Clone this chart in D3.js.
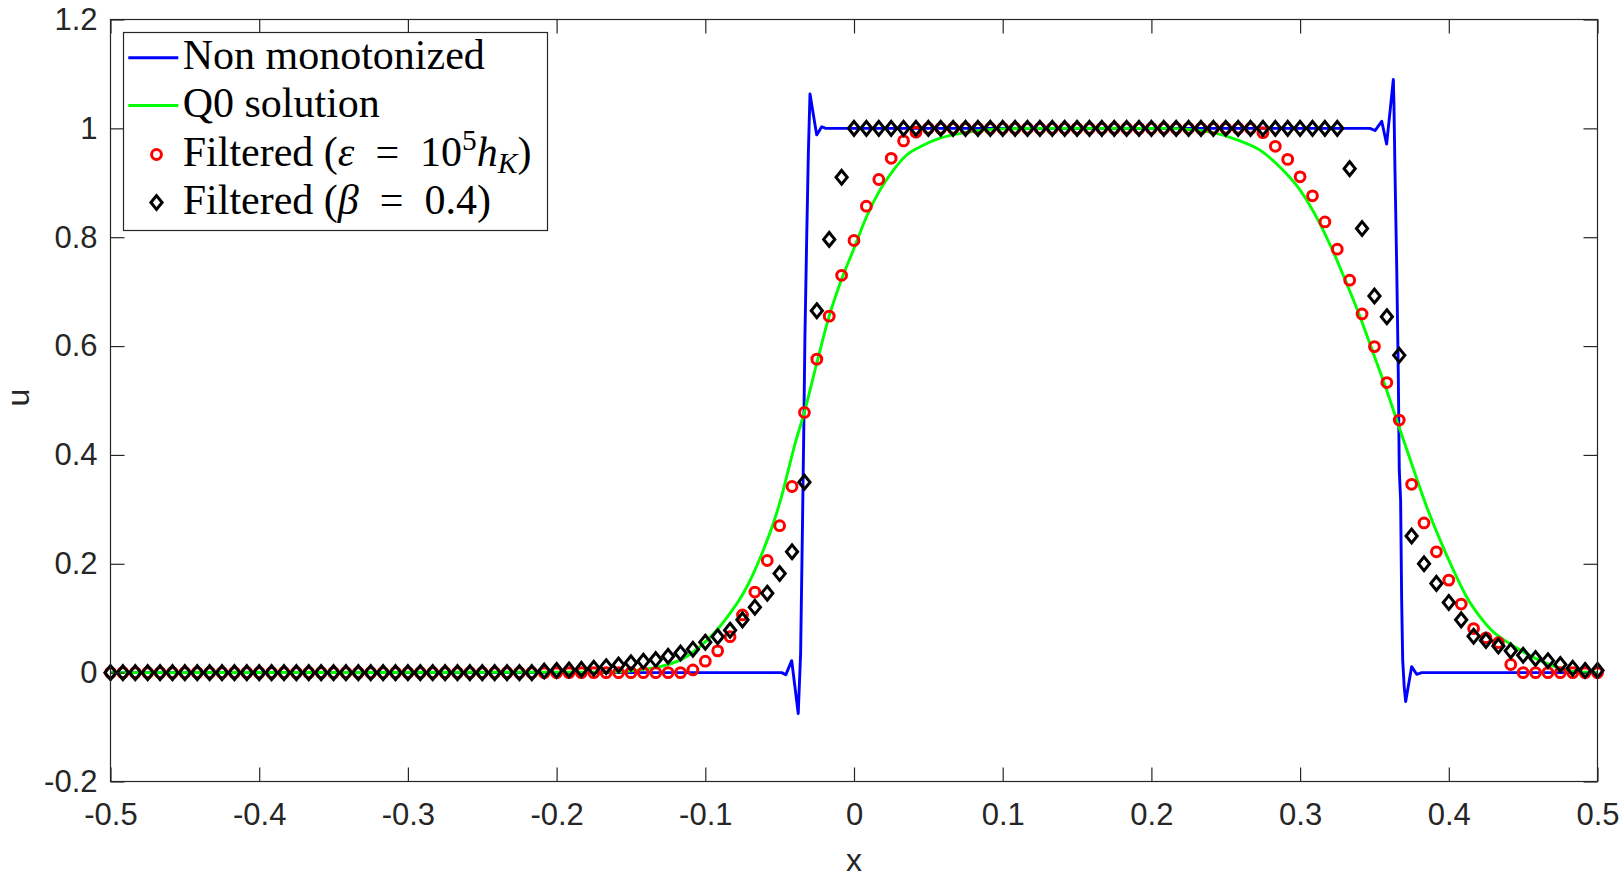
<!DOCTYPE html>
<html>
<head>
<meta charset="utf-8">
<script src="https://cdn.jsdelivr.net/npm/d3@7/dist/d3.min.js"></script>
<style>
  html, body { margin: 0; padding: 0; background: #fff; }
  svg { display: block; }
</style>
</head>
<body>
<svg id="chart" width="1621" height="877"></svg>
<script>
// ---------------- DATA ----------------
const xTicks = [-0.5, -0.4, -0.3, -0.2, -0.1, 0, 0.1, 0.2, 0.3, 0.4, 0.5];
const xTickLabels = ["-0.5", "-0.4", "-0.3", "-0.2", "-0.1", "0", "0.1", "0.2", "0.3", "0.4", "0.5"];
const yTicks = [-0.2, 0, 0.2, 0.4, 0.6, 0.8, 1, 1.2];
const yTickLabels = ["-0.2", "0", "0.2", "0.4", "0.6", "0.8", "1", "1.2"];

// marker abscissae: 121 nodes from -0.5 to 0.5
const markerX = d3.range(121).map(i => -0.5 + i / 120);

// Filtered (epsilon = 10^5 h_K) -- red circles
const filteredEps = [
  0,0,0,0,0,0,0,0,0,0,            // 0-9
  0,0,0,0,0,0,0,0,0,0,            // 10-19
  0,0,0,0,0,0,0,0,0,0,            // 20-29
  0,0,0,0,0,0,0,0,0,0,            // 30-39
  0,0,0,0,0,0,0,0.005,0.021,0.040, // 40-49
  0.066,0.106,0.148,0.206,0.270,0.342,0.478,0.576,0.655,0.730, // 50-59
  0.794,0.857,0.906,0.945,0.977,0.993,1,1,1,1, // 60-69
  1,1,1,1,1,1,1,1,1,1,            // 70-79
  1,1,1,1,1,1,1,1,1,1,            // 80-89
  1,1,1,0.992,0.967,0.943,0.911,0.876,0.828,0.778, // 90-99
  0.721,0.659,0.599,0.533,0.464,0.346,0.275,0.222,0.170,0.126, // 100-109
  0.081,0.064,0.055,0.015,0,0,0,0,0,0, // 110-119
  0                               // 120
];

// Filtered (beta = 0.4) -- black diamonds
const filteredBeta = [
  0,0,0,0,0,0,0,0,0,0,            // 0-9
  0,0,0,0,0,0,0,0,0,0,            // 10-19
  0,0,0,0,0,0,0,0,0,0,            // 20-29
  0,0,0,0,0,0.003,0.004,0.005,0.006,0.008, // 30-39
  0.011,0.014,0.018,0.021,0.024,0.030,0.036,0.043,0.056,0.066, // 40-49
  0.078,0.097,0.120,0.146,0.182,0.222,0.350,0.665,0.796,0.910, // 50-59
  1,1,1,1,1,1,1,1,1,1,            // 60-69
  1,1,1,1,1,1,1,1,1,1,            // 70-79
  1,1,1,1,1,1,1,1,1,1,            // 80-89
  1,1,1,1,1,1,1,1,1,1,            // 90-99
  0.926,0.816,0.692,0.654,0.583,0.251,0.200,0.164,0.129,0.097, // 100-109
  0.067,0.059,0.049,0.040,0.032,0.026,0.022,0.015,0.008,0.004, // 110-119
  0.004                           // 120
];

// Non monotonized solution -- blue line (x, u)
const nonMonoX = [-0.5, -0.0486, -0.0459, -0.0419, -0.0375, -0.0359, -0.0346, -0.0338, -0.0330, -0.0318, -0.0307, -0.0296, -0.0251, -0.0217, -0.0190,
  0.3470, 0.3504, 0.3549, 0.3582, 0.3627, 0.3631, 0.3638, 0.3650, 0.3660, 0.3667, 0.3676, 0.3683, 0.3690, 0.3700, 0.3710, 0.3750, 0.3784, 0.3818, 0.5];
const nonMonoU = [0, 0, -0.004, 0.022, -0.075, 0.035, 0.28, 0.44, 0.617, 0.80, 0.954, 1.063, 0.988, 1.003, 1.0,
  1.0, 0.996, 1.013, 0.971, 1.09, 1.046, 0.923, 0.74, 0.556, 0.372, 0.317, 0.133, 0.023, -0.026, -0.053, 0.011, -0.003, 0, 0];

// Q0 solution -- green line (x, u)
const q0X = [-0.5, -0.16, -0.1439, -0.1305, -0.1170, -0.1036, -0.0923, -0.0834, -0.0744, -0.0677, -0.0610, -0.0543, -0.0476, -0.0442, -0.0397, -0.0334, -0.0251, -0.0168, -0.0094, -0.0005,
  0.0085, 0.0175, 0.0264, 0.0354, 0.0466, 0.0578, 0.07, 0.085, 0.10, 0.12, 0.21, 0.225, 0.24, 0.2596, 0.2730, 0.2864, 0.2999, 0.3133, 0.3223, 0.3313,
  0.3403, 0.3492, 0.3582, 0.3672, 0.3761, 0.3851, 0.3941, 0.4030, 0.4120, 0.4209, 0.4299, 0.4389, 0.4478, 0.4568, 0.4658, 0.4748, 0.4837, 0.5];
const q0U = [0, 0.001, 0.005, 0.011, 0.023, 0.048, 0.078, 0.109, 0.146, 0.182, 0.225, 0.274, 0.335, 0.372, 0.420, 0.478, 0.568, 0.654, 0.715, 0.776,
  0.838, 0.887, 0.923, 0.951, 0.969, 0.982, 0.990, 0.996, 0.999, 1.0, 1.0, 0.998, 0.993, 0.977, 0.960, 0.929, 0.887, 0.825, 0.773, 0.715,
  0.654, 0.587, 0.519, 0.446, 0.375, 0.305, 0.244, 0.189, 0.139, 0.103, 0.075, 0.057, 0.042, 0.028, 0.017, 0.008, 0.002, 0];

// ---------------- CHART ----------------
const svg = d3.select("#chart");
const W = 1621, H = 877;
const plot = { left: 110.5, right: 1597.5, top: 19.5, bottom: 781.5 };
const axisColor = "#262626";
const tickFont = "'Liberation Sans', Arial, Helvetica, sans-serif";
const legendFont = "'Liberation Serif', 'Times New Roman', serif";

const x = d3.scaleLinear().domain([-0.5, 0.5]).range([plot.left, plot.right]);
const y = d3.scaleLinear().domain([-0.2, 1.2]).range([plot.bottom, plot.top]);

svg.append("rect").attr("width", W).attr("height", H).attr("fill", "#fff");

const clipId = "plotclip";
svg.append("clipPath").attr("id", clipId).append("rect")
  .attr("x", plot.left - 9).attr("y", plot.top).attr("width", plot.right - plot.left + 18).attr("height", plot.bottom - plot.top);

const g = svg.append("g").attr("clip-path", `url(#${clipId})`);

const line = d3.line().x(d => x(d[0])).y(d => y(d[1]));

// blue line
g.append("path")
  .datum(nonMonoX.map((v, i) => [v, nonMonoU[i]]))
  .attr("d", line).attr("fill", "none").attr("stroke", "#0000ff")
  .attr("stroke-width", 2.9).attr("stroke-linejoin", "round");

// green line
g.append("path")
  .datum(q0X.map((v, i) => [v, q0U[i]]))
  .attr("d", d3.line().curve(d3.curveMonotoneX).x(d => x(d[0])).y(d => y(d[1])))
  .attr("fill", "none").attr("stroke", "#00ff00")
  .attr("stroke-width", 2.9).attr("stroke-linejoin", "round");

// red circles
const circR = 4.9, circW = 3;
g.selectAll("circle.eps").data(markerX.map((v, i) => [v, filteredEps[i]]))
  .enter().append("circle").attr("class", "eps")
  .attr("cx", d => x(d[0])).attr("cy", d => y(d[1])).attr("r", circR)
  .attr("fill", "none").attr("stroke", "#ff0000").attr("stroke-width", circW);

// black diamonds
const diamond = (w, h) => `M0,${-h}L${w},0L0,${h}L${-w},0Z`;
const dW = 5.6, dH = 6.9, dSW = 3;
g.selectAll("path.beta").data(markerX.map((v, i) => [v, filteredBeta[i]]))
  .enter().append("path").attr("class", "beta")
  .attr("transform", d => `translate(${x(d[0])},${y(d[1])})`)
  .attr("d", diamond(dW, dH))
  .attr("fill", "none").attr("stroke", "#000").attr("stroke-width", dSW)
  .attr("stroke-linejoin", "miter");

// axes box
const axes = svg.append("g");
axes.append("rect")
  .attr("x", plot.left).attr("y", plot.top)
  .attr("width", plot.right - plot.left).attr("height", plot.bottom - plot.top)
  .attr("fill", "none").attr("stroke", axisColor).attr("stroke-width", 1.2);

const tickLen = 14;
// bottom axis (ticks inward)
const xAxis = d3.axisBottom(x).tickValues(xTicks).tickFormat((d, i) => xTickLabels[i])
  .tickSizeInner(-tickLen).tickSizeOuter(0).tickPadding(21);
const xg = axes.append("g").attr("transform", `translate(0,${plot.bottom})`).call(xAxis);
xg.select(".domain").remove();
xg.selectAll("line").attr("stroke", axisColor).attr("stroke-width", 1.2);
xg.selectAll("text").attr("fill", axisColor).style("font-family", tickFont).style("font-size", "31px");

// top ticks
const xTop = d3.axisTop(x).tickValues(xTicks).tickFormat("").tickSizeInner(-tickLen).tickSizeOuter(0);
const xtg = axes.append("g").attr("transform", `translate(0,${plot.top})`).call(xTop);
xtg.select(".domain").remove();
xtg.selectAll("line").attr("stroke", axisColor).attr("stroke-width", 1.2);

// left axis
const yAxis = d3.axisLeft(y).tickValues(yTicks).tickFormat((d, i) => yTickLabels[i])
  .tickSizeInner(-tickLen).tickSizeOuter(0).tickPadding(13);
const yg = axes.append("g").attr("transform", `translate(${plot.left},0)`).call(yAxis);
yg.select(".domain").remove();
yg.selectAll("line").attr("stroke", axisColor).attr("stroke-width", 1.2);
yg.selectAll("text").attr("fill", axisColor).style("font-family", tickFont).style("font-size", "31px");

// right ticks
const yRight = d3.axisRight(y).tickValues(yTicks).tickFormat("").tickSizeInner(-tickLen).tickSizeOuter(0);
const yrg = axes.append("g").attr("transform", `translate(${plot.right},0)`).call(yRight);
yrg.select(".domain").remove();
yrg.selectAll("line").attr("stroke", axisColor).attr("stroke-width", 1.2);

// axis labels
svg.append("text").attr("x", (plot.left + plot.right) / 2).attr("y", 871)
  .attr("text-anchor", "middle").attr("fill", axisColor)
  .style("font-family", tickFont).style("font-size", "32px").text("x");
svg.append("text").attr("transform", `translate(29,${(plot.top + plot.bottom) / 2 - 3}) rotate(-90)`)
  .attr("text-anchor", "middle").attr("fill", axisColor)
  .style("font-family", tickFont).style("font-size", "32px").text("u");

// ---------------- LEGEND ----------------
const lg = svg.append("g");
lg.append("rect").attr("x", 123.5).attr("y", 32.5).attr("width", 424).attr("height", 198)
  .attr("fill", "#fff").attr("stroke", axisColor).attr("stroke-width", 1.2);

const rowsY = [57.7, 105.5, 154.5, 202.5];
const textX = 182.7;
const fs = 42;

// row 1: blue line
lg.append("line").attr("x1", 128.3).attr("x2", 178.3).attr("y1", rowsY[0]).attr("y2", rowsY[0])
  .attr("stroke", "#0000ff").attr("stroke-width", 2.9);
// row 2: green line
lg.append("line").attr("x1", 128.3).attr("x2", 178.3).attr("y1", rowsY[1]).attr("y2", rowsY[1])
  .attr("stroke", "#00ff00").attr("stroke-width", 2.9);
// row 3: circle
lg.append("circle").attr("cx", 156.5).attr("cy", rowsY[2]).attr("r", circR)
  .attr("fill", "none").attr("stroke", "#ff0000").attr("stroke-width", circW);
// row 4: diamond
lg.append("path").attr("transform", `translate(156.5,${rowsY[3]})`).attr("d", diamond(dW, dH))
  .attr("fill", "none").attr("stroke", "#000").attr("stroke-width", dSW);

const baseOff = 11;
function legendText(row) {
  return lg.append("text").attr("x", textX).attr("y", rowsY[row] + baseOff)
    .attr("fill", "#000").style("font-family", legendFont).style("font-size", fs + "px");
}
legendText(0).text("Non monotonized");
legendText(1).text("Q0 solution");

const t3 = legendText(2);
t3.append("tspan").text("Filtered (");
t3.append("tspan").style("font-style", "italic").text("\u03B5");
t3.append("tspan").text("\u2002=\u200210");
t3.append("tspan").attr("dy", -16).style("font-size", (fs * 0.7) + "px").text("5");
t3.append("tspan").attr("dy", 16).style("font-style", "italic").text("h");
t3.append("tspan").attr("dy", 7).style("font-size", (fs * 0.7) + "px").style("font-style", "italic").text("K");
t3.append("tspan").attr("dy", -7).text(")");

const t4 = legendText(3);
t4.append("tspan").text("Filtered (");
t4.append("tspan").style("font-style", "italic").text("\u03B2");
t4.append("tspan").text("\u2002=\u20020.4)");
</script>
</body>
</html>
